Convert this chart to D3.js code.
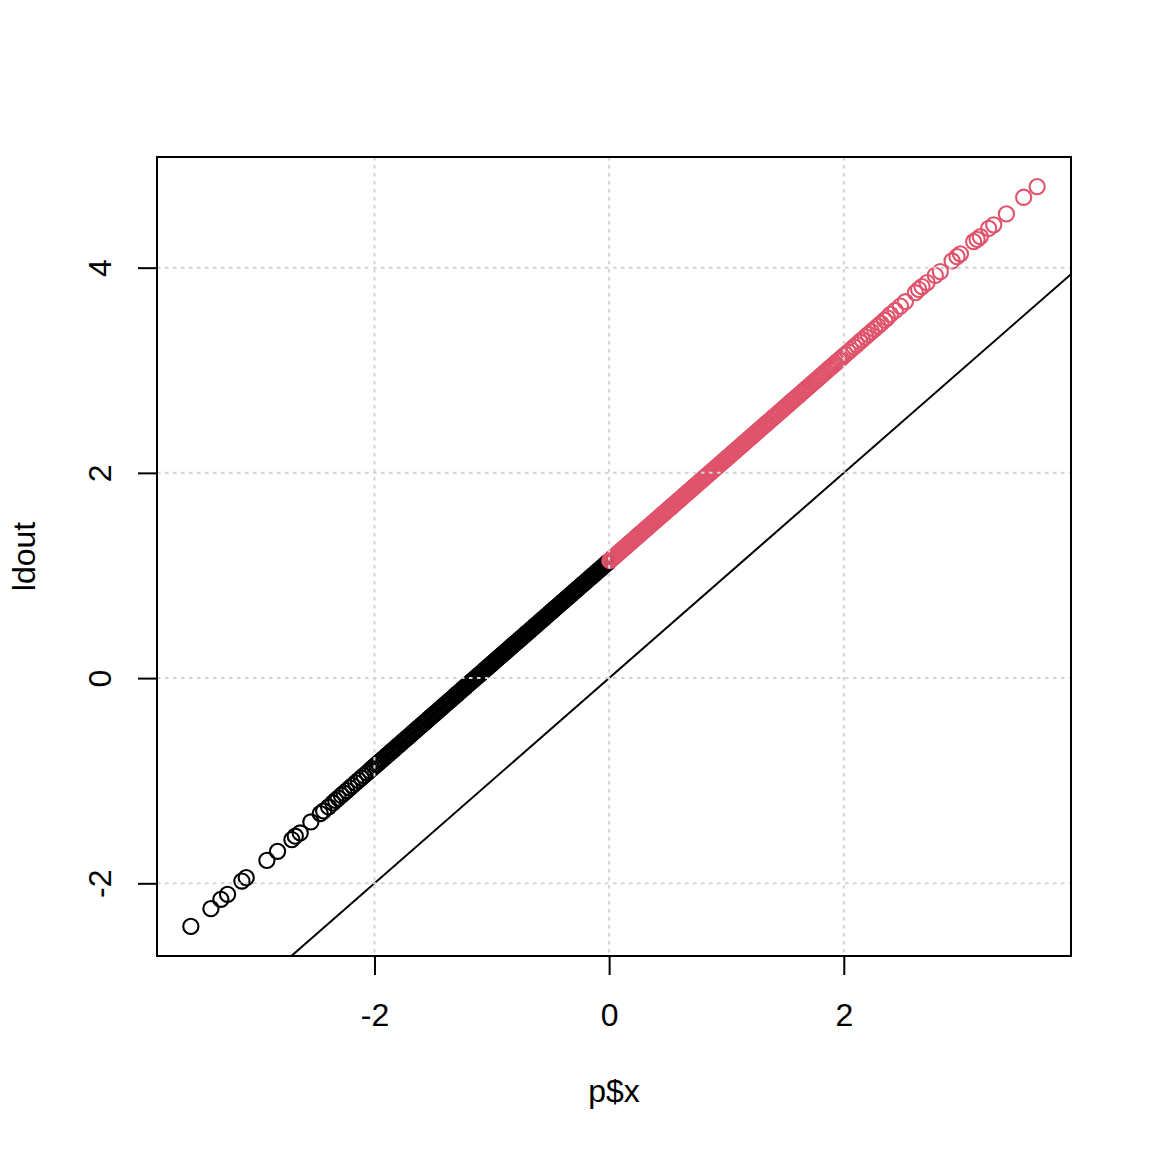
<!DOCTYPE html>
<html>
<head>
<meta charset="utf-8">
<script src="https://cdn.jsdelivr.net/npm/d3@7"></script>
<style>
    html, body { margin: 0; padding: 0; background: #ffffff; }
    svg { display: block; }
    text { font-family: "Liberation Sans", Arial, Helvetica, sans-serif; }
</style>
</head>
<body>
<svg id="chart" width="1152" height="1152"></svg>
<script>
const WIDTH = 1152;
const HEIGHT = 1152;
const MARGIN = { top: 157, right: 81, bottom: 196, left: 157 };

const X_LABEL = 'p$x';
const Y_LABEL = 'ldout';
const X_TICKS = [-2, 0, 2];
const Y_TICKS = [-2, 0, 2, 4];

const BLACK = '#000000';
const RED = '#DF536B';
const GRID_COLOUR = '#d3d3d3';

const POINT_RADIUS = 7.6;
const POINT_STROKE = 2.1;

// points with p$x < 0
const blackPoints = [
    [-3.565,-2.420],[-3.394,-2.247],[-3.309,-2.156],[-3.252,-2.107],[-3.130,-1.978],[-3.093,-1.945],
    [-2.917,-1.776],[-2.826,-1.688],[-2.704,-1.574],[-2.675,-1.541],[-2.633,-1.509],[-2.542,-1.402],
    [-2.462,-1.320],[-2.433,-1.295],[-2.391,-1.256],[-2.354,-1.217],
    [-2.331,-1.191],[-2.309,-1.169],[-2.282,-1.142],[-2.260,-1.121],[-2.236,-1.097],[-2.210,-1.070],
    [-2.188,-1.048],[-2.161,-1.021],[-2.137,-0.997],[-2.112,-0.972],[-2.090,-0.950],[-2.063,-0.923],
    [-2.041,-0.901],[-2.018,-0.878],[-2.001,-0.861],
    [-1.984,-0.844],[-1.969,-0.829],[-1.955,-0.815],[-1.939,-0.799],[-1.925,-0.785],[-1.909,-0.769],
    [-1.894,-0.754],[-1.880,-0.740],[-1.864,-0.724],[-1.850,-0.710],[-1.834,-0.694],[-1.820,-0.680],
    [-1.804,-0.664],[-1.790,-0.650],[-1.775,-0.635],[-1.760,-0.620],[-1.745,-0.605],[-1.730,-0.590],
    [-1.715,-0.575],[-1.700,-0.560],[-1.686,-0.546],[-1.670,-0.530],[-1.656,-0.516],[-1.640,-0.500],
    [-1.626,-0.486],[-1.610,-0.470],[-1.596,-0.456],[-1.581,-0.441],[-1.566,-0.426],[-1.551,-0.411],
    [-1.536,-0.396],[-1.521,-0.381],[-1.506,-0.366],[-1.491,-0.351],[-1.476,-0.336],[-1.461,-0.321],
    [-1.446,-0.306],[-1.432,-0.292],[-1.416,-0.276],[-1.402,-0.262],[-1.386,-0.246],[-1.372,-0.232],
    [-1.357,-0.217],[-1.342,-0.202],[-1.327,-0.187],[-1.312,-0.172],[-1.300,-0.160],
    [-1.290,-0.150],[-1.277,-0.137],[-1.265,-0.125],[-1.251,-0.111],[-1.238,-0.098],[-1.226,-0.086],
    [-1.212,-0.072],[-1.200,-0.060],[-1.187,-0.047],[-1.173,-0.033],[-1.161,-0.021],[-1.148,-0.008],
    [-1.135,0.005],[-1.122,0.018],[-1.110,0.030],[-1.096,0.044],[-1.083,0.057],[-1.071,0.069],
    [-1.058,0.082],[-1.044,0.096],[-1.032,0.108],[-1.019,0.121],[-1.006,0.134],[-0.993,0.147],
    [-0.980,0.160],[-0.968,0.172],[-0.954,0.186],[-0.941,0.199],[-0.929,0.211],[-0.915,0.225],
    [-0.903,0.237],[-0.890,0.250],[-0.877,0.263],[-0.864,0.276],[-0.851,0.289],[-0.838,0.302],
    [-0.826,0.314],[-0.812,0.328],[-0.800,0.340],[-0.787,0.353],[-0.774,0.366],[-0.761,0.379],
    [-0.748,0.392],[-0.735,0.405],[-0.722,0.418],[-0.709,0.431],[-0.697,0.443],[-0.684,0.456],
    [-0.670,0.470],[-0.658,0.482],[-0.645,0.495],[-0.632,0.508],[-0.619,0.521],[-0.606,0.534],
    [-0.593,0.547],[-0.580,0.560],[-0.568,0.572],[-0.555,0.585],[-0.541,0.599],[-0.529,0.611],
    [-0.516,0.624],[-0.503,0.637],[-0.490,0.650],[-0.477,0.663],[-0.464,0.676],[-0.452,0.688],
    [-0.438,0.702],[-0.426,0.714],[-0.413,0.727],[-0.400,0.740],[-0.387,0.753],[-0.374,0.766],
    [-0.361,0.779],[-0.348,0.792],[-0.335,0.805],[-0.323,0.817],[-0.310,0.830],[-0.296,0.844],
    [-0.284,0.856],[-0.271,0.869],[-0.258,0.882],[-0.245,0.895],[-0.232,0.908],[-0.219,0.921],
    [-0.206,0.934],[-0.194,0.946],[-0.181,0.959],[-0.167,0.973],[-0.155,0.985],[-0.142,0.998],
    [-0.129,1.011],[-0.116,1.024],[-0.103,1.037],[-0.090,1.050],[-0.077,1.063],[-0.065,1.075],
    [-0.052,1.088],[-0.039,1.101],[-0.026,1.114],[-0.013,1.127],[-0.004,1.136]
];

// points with p$x > 0
const redPoints = [
    [0.006,1.146],[0.018,1.158],[0.031,1.171],[0.044,1.184],[0.057,1.197],[0.070,1.210],
    [0.083,1.223],[0.095,1.235],[0.108,1.248],[0.121,1.261],[0.134,1.274],[0.147,1.287],
    [0.160,1.300],[0.172,1.312],[0.185,1.325],[0.198,1.338],[0.211,1.351],[0.224,1.364],
    [0.237,1.377],[0.250,1.390],[0.262,1.402],[0.275,1.415],[0.288,1.428],[0.301,1.441],
    [0.314,1.454],[0.327,1.467],[0.340,1.480],[0.352,1.492],[0.365,1.505],[0.378,1.518],
    [0.391,1.531],[0.404,1.544],[0.417,1.557],[0.430,1.570],[0.442,1.582],[0.455,1.595],
    [0.468,1.608],[0.481,1.621],[0.494,1.634],[0.507,1.647],[0.520,1.660],[0.532,1.672],
    [0.545,1.685],[0.558,1.698],[0.571,1.711],[0.584,1.724],[0.597,1.737],[0.610,1.750],
    [0.622,1.762],[0.635,1.775],[0.648,1.788],[0.661,1.801],[0.674,1.814],[0.687,1.827],
    [0.700,1.840],[0.712,1.852],[0.725,1.865],[0.738,1.878],[0.751,1.891],[0.764,1.904],
    [0.777,1.917],[0.790,1.930],[0.802,1.942],[0.815,1.955],[0.828,1.968],[0.841,1.981],
    [0.854,1.994],[0.867,2.007],[0.880,2.020],[0.892,2.032],[0.905,2.045],[0.918,2.058],
    [0.931,2.071],[0.944,2.084],[0.957,2.097],[0.970,2.110],[0.982,2.122],[0.995,2.135],
    [1.008,2.148],[1.021,2.161],[1.034,2.174],[1.047,2.187],[1.060,2.200],[1.072,2.212],
    [1.085,2.225],[1.098,2.238],[1.111,2.251],[1.124,2.264],[1.137,2.277],[1.150,2.290],
    [1.162,2.302],[1.175,2.315],[1.188,2.328],[1.201,2.341],[1.214,2.354],[1.227,2.367],
    [1.240,2.380],[1.252,2.392],[1.265,2.405],[1.278,2.418],[1.291,2.431],
    [1.305,2.445],[1.320,2.460],[1.335,2.475],[1.350,2.490],[1.366,2.506],[1.380,2.520],
    [1.396,2.536],[1.410,2.550],[1.426,2.566],[1.440,2.580],[1.456,2.596],[1.470,2.610],
    [1.486,2.626],[1.500,2.640],[1.516,2.656],[1.531,2.671],[1.546,2.686],[1.561,2.701],
    [1.576,2.716],[1.591,2.731],[1.606,2.746],[1.621,2.761],[1.636,2.776],[1.651,2.791],
    [1.666,2.806],[1.681,2.821],[1.697,2.837],[1.711,2.851],[1.727,2.867],[1.742,2.882],
    [1.757,2.897],[1.772,2.912],[1.788,2.928],[1.803,2.943],[1.818,2.958],[1.834,2.974],
    [1.849,2.989],[1.865,3.005],[1.880,3.020],[1.896,3.036],[1.912,3.052],[1.928,3.068],
    [1.944,3.084],[1.960,3.100],[1.977,3.117],[1.993,3.133],
    [2.014,3.154],[2.038,3.178],[2.060,3.200],[2.087,3.227],[2.110,3.250],[2.136,3.276],
    [2.158,3.298],[2.185,3.325],[2.209,3.349],[2.236,3.376],[2.262,3.402],[2.291,3.431],
    [2.317,3.457],[2.348,3.488],[2.371,3.511],
    [2.397,3.545],[2.439,3.583],[2.482,3.625],[2.525,3.668],[2.610,3.756],[2.638,3.788],
    [2.667,3.815],[2.710,3.854],[2.780,3.925],[2.823,3.961],[2.923,4.065],[2.965,4.107],
    [2.994,4.134],[3.107,4.254],[3.136,4.276],[3.164,4.302],[3.235,4.383],[3.278,4.417],
    [3.386,4.524],[3.533,4.686],[3.648,4.790]
];

// reference line ldout = p$x
const refLine = { intercept: 0, slope: 1 };

const svg = d3.select('#chart');
const plotLeft = MARGIN.left;
const plotRight = WIDTH - MARGIN.right;
const plotTop = MARGIN.top;
const plotBottom = HEIGHT - MARGIN.bottom;

// R style: data range padded by 4% each side
const padded = extent => {
    const d = (extent[1] - extent[0]) * 0.04;
    return [extent[0] - d, extent[1] + d];
};

const allPoints = blackPoints.concat(redPoints);
const xScale = d3.scaleLinear()
    .domain(padded(d3.extent(allPoints, d => d[0])))
    .range([plotLeft, plotRight]);
const yScale = d3.scaleLinear()
    .domain(padded(d3.extent(allPoints, d => d[1])))
    .range([plotBottom, plotTop]);

svg.append('rect')
    .attr('width', WIDTH)
    .attr('height', HEIGHT)
    .attr('fill', '#ffffff');

svg.append('clipPath')
    .attr('id', 'plotClip')
    .append('rect')
    .attr('x', plotLeft)
    .attr('y', plotTop)
    .attr('width', plotRight - plotLeft)
    .attr('height', plotBottom - plotTop);

const drawPoints = (data, colour) => {
    svg.append('g')
        .selectAll('circle')
        .data(data)
        .enter()
        .append('circle')
        .attr('cx', d => xScale(d[0]))
        .attr('cy', d => yScale(d[1]))
        .attr('r', POINT_RADIUS)
        .attr('fill', 'none')
        .attr('stroke', colour)
        .attr('stroke-width', POINT_STROKE);
};

drawPoints(blackPoints, BLACK);
drawPoints(redPoints, RED);

// abline
const [x0, x1] = xScale.domain();
svg.append('line')
    .attr('clip-path', 'url(#plotClip)')
    .attr('x1', xScale(x0))
    .attr('y1', yScale(refLine.intercept + refLine.slope * x0))
    .attr('x2', xScale(x1))
    .attr('y2', yScale(refLine.intercept + refLine.slope * x1))
    .attr('stroke', BLACK)
    .attr('stroke-width', 2);

// grid, drawn over the points as grid() does
const grid = svg.append('g')
    .attr('stroke', GRID_COLOUR)
    .attr('stroke-width', 2)
    .attr('stroke-dasharray', '3.5,4.5');
grid.selectAll('line.v')
    .data(X_TICKS)
    .enter()
    .append('line')
    .attr('x1', d => xScale(d))
    .attr('x2', d => xScale(d))
    .attr('y1', plotTop)
    .attr('y2', plotBottom);
grid.selectAll('line.h')
    .data(Y_TICKS)
    .enter()
    .append('line')
    .attr('x1', plotLeft)
    .attr('x2', plotRight)
    .attr('y1', d => yScale(d))
    .attr('y2', d => yScale(d));

// axes
const xAxis = d3.axisBottom(xScale)
    .tickValues(X_TICKS)
    .tickFormat(d3.format('d'))
    .tickSize(19)
    .tickPadding(28);
const gx = svg.append('g')
    .attr('transform', `translate(0,${plotBottom})`)
    .call(xAxis);

const yAxis = d3.axisLeft(yScale)
    .tickValues(Y_TICKS)
    .tickFormat(d3.format('d'))
    .tickSize(19);
const gy = svg.append('g')
    .attr('transform', `translate(${plotLeft},0)`)
    .call(yAxis);

[gx, gy].forEach(g => {
    g.select('.domain').remove();
    g.selectAll('.tick line').attr('stroke', BLACK).attr('stroke-width', 2);
    g.selectAll('.tick text')
        .attr('fill', BLACK)
        .style('font-size', '32px')
        .style('font-family', '"Liberation Sans", Arial, Helvetica, sans-serif');
});

gx.selectAll('.tick text').text(d => d < 0 ? '-' + Math.abs(d) : d);

gy.selectAll('.tick text')
    .text(d => d < 0 ? '-' + Math.abs(d) : d)
    .attr('x', null)
    .attr('dy', null)
    .attr('text-anchor', 'middle')
    .attr('transform', `translate(${111 - plotLeft},0) rotate(-90)`);

// box
svg.append('rect')
    .attr('x', plotLeft)
    .attr('y', plotTop)
    .attr('width', plotRight - plotLeft)
    .attr('height', plotBottom - plotTop)
    .attr('fill', 'none')
    .attr('stroke', BLACK)
    .attr('stroke-width', 2);

// axis titles
svg.append('text')
    .attr('x', (plotLeft + plotRight) / 2)
    .attr('y', 1102)
    .attr('text-anchor', 'middle')
    .style('font-size', '32px')
    .text(X_LABEL);

svg.append('text')
    .attr('transform', `translate(35,${(plotTop + plotBottom) / 2}) rotate(-90)`)
    .attr('text-anchor', 'middle')
    .style('font-size', '32px')
    .text(Y_LABEL);
</script>
</body>
</html>
